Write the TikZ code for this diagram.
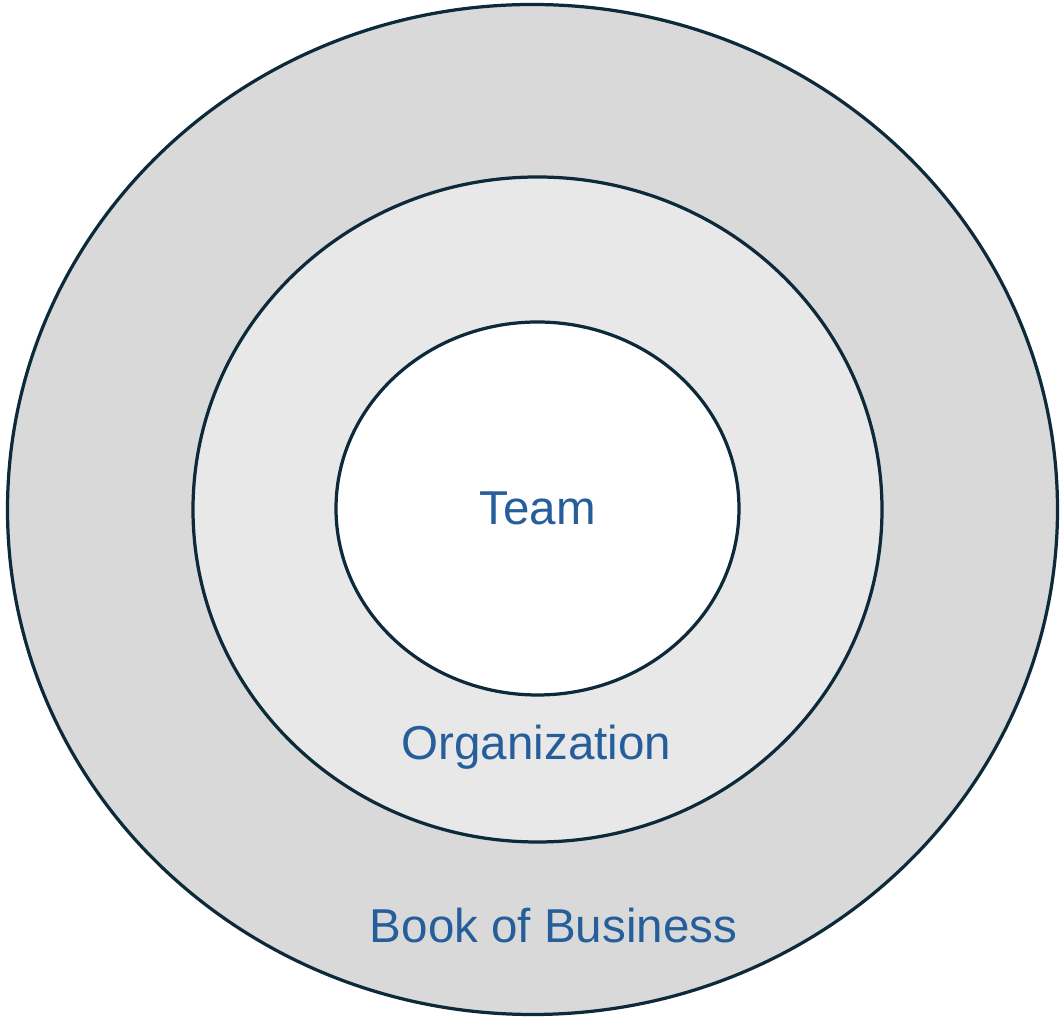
\documentclass[tikz,border=0pt]{standalone}
\usepackage{fontspec}
\setmainfont{Liberation Sans}
\usepackage{tikz}
\definecolor{ringline}{RGB}{12,42,58}
\definecolor{labelblue}{RGB}{37,94,155}
\definecolor{outerfill}{RGB}{217,217,217}
\definecolor{middlefill}{RGB}{232,232,232}
\tikzset{
	ring/.style={draw=ringline, line width=2.3pt},
	ringlabel/.style={text=labelblue, anchor=base, inner sep=0pt, font=\fontsize{33.8}{40}\selectfont}
}

\begin{document}
\begin{tikzpicture}[x=0.025cm, y=0.025cm]
	\useasboundingbox (0, 0) rectangle (1061, 1019);
	
	% Draw the three rings, outside in
	\draw[ring, fill=outerfill] (532.5, 509.5) ellipse [x radius=525, y radius=505];
	\draw[ring, fill=middlefill] (537.5, 509.5) ellipse [x radius=344.5, y radius=332.5];
	\draw[ring, fill=white] (537.5, 510.5) ellipse [x radius=201.5, y radius=186.5];
	
	% Labels
	\node[ringlabel] (team) at (537.5, 494) {Team};
	\node[ringlabel] (org) at (536.5, 259) {Organization};
	\node[ringlabel] (book) at (553.5, 76) {Book of Business};
\end{tikzpicture}
\end{document}
